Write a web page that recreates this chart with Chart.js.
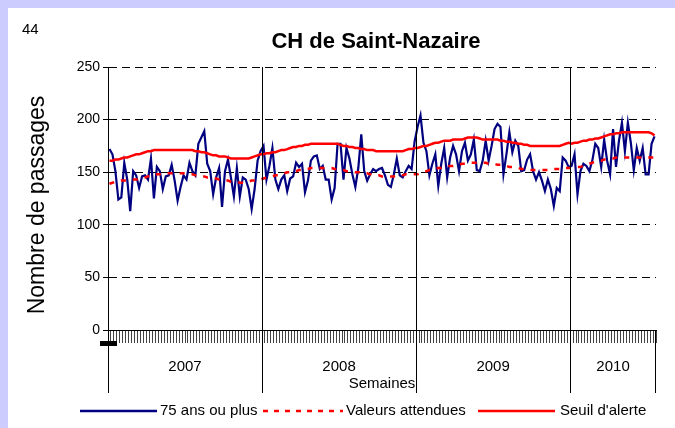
<!DOCTYPE html>
<html><head><meta charset="utf-8">
<script src="https://cdn.jsdelivr.net/npm/chart.js@4/dist/chart.umd.min.js"></script>
<style>
html,body{margin:0;padding:0;background:#CCCCFF;width:675px;height:428px;overflow:hidden}
#wrap{position:absolute;left:8px;top:8px;width:667px;height:420px;background:#fff}
canvas{display:block}
</style></head><body>
<div id="wrap"><canvas id="c" width="667" height="420"></canvas></div>
<script>
// ---- data ----
const years = ['2007', '2008', '2009', '2010'];
const weeksPerYear = [52, 52, 52, 29];
const yTicks = [0, 50, 100, 150, 200, 250];

const obs2007 = [172,167,151,124,126,159,143,113,151,147,135,146,147,143,163,125,155,151,134,146,147,157,142,123,136,147,143,159,151,147,177,183,189,158,151,129,145,154,117,151,162,145,127,154,127,145,143,134,115,134,161,170];
const obs2008 = [175,143,156,173,143,134,143,147,132,144,146,159,155,158,131,142,161,165,166,153,156,143,143,124,135,177,177,143,173,163,148,136,154,186,151,142,148,153,151,153,154,147,138,136,148,163,147,145,151,156,153,179];
const obs2009 = [193,204,178,170,147,158,167,137,158,173,145,164,175,167,151,170,178,161,167,181,152,151,161,180,161,175,191,196,193,148,167,188,169,180,175,151,152,162,167,151,143,150,142,132,143,134,118,135,132,164,161,155];
const obs2010 = [156,167,129,151,158,156,151,161,177,173,155,181,161,148,191,155,180,197,170,197,178,152,173,161,173,148,148,177,184];

const exp2007 = [139,140,141,141,142,142,142,143,143,143,143,144,145,146,147,147,148,148,149,149,149,149,149,149,149,149,149,148,148,147,147,146,146,145,145,144,144,143,143,142,142,141,141,141,140,140,140,141,142,142,143,143];
const exp2008 = [144,145,145,146,147,147,148,149,150,150,151,151,152,152,153,153,154,154,154,154,154,154,154,154,153,153,152,152,151,151,151,150,150,150,149,149,148,148,147,147,146,146,146,146,146,147,147,147,148,148,148,148];
const exp2009 = [148,149,150,151,152,152,153,154,154,155,155,156,156,157,157,158,158,159,159,159,159,159,159,159,158,158,158,157,157,156,156,155,155,154,154,153,153,152,152,152,152,152,152,152,152,152,153,153,153,154,154,154];
const exp2010 = [154,154,155,155,156,157,158,159,160,161,161,162,162,163,163,164,164,164,164,164,164,164,164,164,164,164,164,164,164];

const thr2007 = [161,161,162,162,163,164,164,165,166,167,167,168,169,170,170,171,171,171,171,171,171,171,171,171,171,171,171,171,171,170,170,169,169,168,167,166,166,165,165,165,164,163,163,163,163,163,163,163,164,165,166,167];
const thr2008 = [167,168,168,169,169,170,171,171,172,173,174,174,175,175,176,176,177,177,177,177,177,177,177,177,177,177,176,175,175,174,174,173,173,172,172,171,171,171,170,170,170,170,170,170,170,170,170,170,171,172,172,173];
const thr2009 = [173,174,175,175,176,177,178,178,179,180,180,180,181,181,181,181,182,183,183,183,183,182,181,181,181,181,181,181,180,180,179,179,178,178,177,177,176,176,175,175,175,175,175,175,175,175,175,175,175,176,177,178];
const thr2010 = [177,178,178,179,180,180,181,181,182,182,183,184,185,186,186,187,187,188,188,188,188,188,188,188,188,188,188,187,185];

const seriesNames = ['75 ans ou plus', 'Valeurs attendues', "Seuil d'alerte"];
const chartTitle = 'CH de Saint-Nazaire';
const deptLabel = '44';
const yTitle = 'Nombre de passages';
const xTitle = 'Semaines';

// ---- build ----
const labels = [];
years.forEach((y, i) => { for (let w = 1; w <= weeksPerYear[i]; w++) labels.push(y + '-S' + w); });
const obs = [...obs2007, ...obs2008, ...obs2009, ...obs2010];
const expd = [...exp2007, ...exp2008, ...exp2009, ...exp2010];
const thr = [...thr2007, ...thr2008, ...thr2009, ...thr2010];

const FONT = '"Liberation Sans", Arial, sans-serif';
const BLUE = '#000080', RED = '#FF0000';

const decor = {
  id: 'decor',
  afterDraw(chart) {
    const {ctx, chartArea: a, scales: {x}} = chart;
    ctx.save();
    const bounds = [];
    let start = 0;
    weeksPerYear.forEach((n, i) => {
      const s = start, e = start + n - 1;
      const left = s === 0 ? a.left : (x.getPixelForValue(s - 1) + x.getPixelForValue(s)) / 2;
      const right = i === weeksPerYear.length - 1 ? a.right : (x.getPixelForValue(e) + x.getPixelForValue(e + 1)) / 2;
      bounds.push([left, right]);
      start += n;
    });
    ctx.strokeStyle = '#000'; ctx.lineWidth = 1; ctx.setLineDash([]);
    const ext = 63;
    bounds.forEach(([l, r], i) => {
      const xl = Math.round(l) + 0.5;
      ctx.beginPath();
      ctx.moveTo(xl, i === 0 ? a.bottom : a.top);
      ctx.lineTo(xl, a.bottom + ext);
      ctx.stroke();
    });
    const xr = Math.round(a.right) - 0.5;
    ctx.beginPath(); ctx.moveTo(xr, a.bottom); ctx.lineTo(xr, a.bottom + ext); ctx.stroke();

    ctx.fillStyle = '#000';
    ctx.fillRect(a.left - 8, a.bottom + 11, 17, 5);

    ctx.fillStyle = '#000';
    ctx.font = '15px ' + FONT;
    ctx.textAlign = 'center'; ctx.textBaseline = 'middle';
    bounds.forEach(([l, r], i) => ctx.fillText(years[i], (l + r) / 2, a.bottom + 37));
    ctx.fillText(xTitle, (a.left + a.right) / 2, a.bottom + 54);

    ctx.font = 'bold 22px ' + FONT;
    ctx.fillText(chartTitle, 368, 34);
    ctx.font = '15px ' + FONT;
    ctx.textAlign = 'left';
    ctx.fillText(deptLabel, 14, 22);

    ctx.save();
    ctx.translate(30, 197);
    ctx.rotate(-Math.PI / 2);
    ctx.textAlign = 'center';
    ctx.font = '23px ' + FONT;
    ctx.fillText(yTitle, 0, 0);
    ctx.restore();

    const ly = 403;
    const items = [
      {x0: 72, x1: 149, tx: 152, color: BLUE, dash: []},
      {x0: 255, x1: 335, tx: 338, color: RED, dash: [5, 6]},
      {x0: 470, x1: 547, tx: 552, color: RED, dash: []}
    ];
    ctx.font = '15px ' + FONT;
    ctx.textAlign = 'left';
    items.forEach((it, i) => {
      ctx.strokeStyle = it.color; ctx.lineWidth = 2.5; ctx.setLineDash(it.dash);
      ctx.beginPath(); ctx.moveTo(it.x0, ly); ctx.lineTo(it.x1, ly); ctx.stroke();
      ctx.setLineDash([]);
      ctx.fillStyle = '#000';
      ctx.fillText(seriesNames[i], it.tx, ly);
    });
    ctx.restore();
  }
};

new Chart(document.getElementById('c'), {
  type: 'line',
  data: {
    labels,
    datasets: [
      {label: seriesNames[0], data: obs, borderColor: BLUE, borderWidth: 2.2, pointRadius: 0, tension: 0, order: 3},
      {label: seriesNames[1], data: expd, borderColor: RED, borderWidth: 2.5, borderDash: [5, 7], pointRadius: 0, tension: 0, order: 2},
      {label: seriesNames[2], data: thr, borderColor: RED, borderWidth: 2.5, pointRadius: 0, tension: 0, order: 1}
    ]
  },
  options: {
    responsive: false,
    devicePixelRatio: 1,
    animation: false,
    layout: {padding: {top: 59, right: 19, left: 0, bottom: 0}},
    plugins: {legend: {display: false}, title: {display: false}, tooltip: {enabled: false}},
    scales: {
      x: {
        type: 'category',
        offset: true,
        ticks: {display: false, autoSkip: false},
        grid: {display: true, drawOnChartArea: false, drawTicks: true, tickLength: 13, color: '#444', lineWidth: 1, offset: true},
        border: {display: true, color: '#000', width: 1},
        afterFit(s) { s.height = 98; }
      },
      y: {
        min: 0, max: 250,
        afterBuildTicks(s) { s.ticks = yTicks.map(v => ({value: v})); },
        ticks: {color: '#000', font: {family: FONT, size: 14}, padding: 3},
        grid: {color: '#000', lineWidth: 1, tickLength: 5, drawTicks: true, tickBorderDash: [], tickColor: '#000'},
        border: {display: true, color: '#000', width: 1, dash: (c) => (c.tick && c.tick.value === 0) ? [] : [8, 5]},
        afterFit(s) { s.width = 100; }
      }
    }
  },
  plugins: [decor]
});
</script>
</body></html>
